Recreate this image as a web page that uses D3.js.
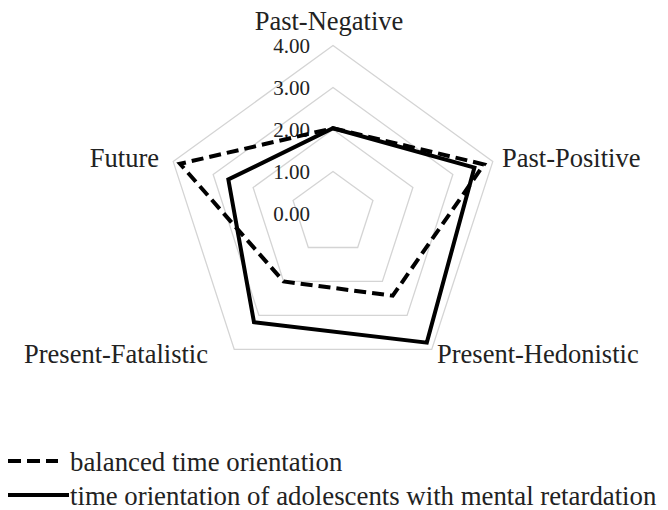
<!DOCTYPE html>
<html>
<head>
<meta charset="utf-8">
<script src="https://cdn.jsdelivr.net/npm/d3@7"></script>
<style>
  body { margin: 0; background: #fff; }
  svg { display: block; }
</style>
</head>
<body>
<div id="chart"></div>
<script>
// Axes of the radar, clockwise from the top
const categories = ["Past-Negative", "Past-Positive", "Present-Hedonistic", "Present-Fatalistic", "Future"];
const balanced = [2.03, 3.78, 2.42, 2.0, 3.83];
const adolescents = [2.03, 3.54, 3.8, 3.2, 2.62];
const tickValues = [0, 1, 2, 3, 4];
const tickLabels = ["0.00", "1.00", "2.00", "3.00", "4.00"];
const seriesNames = ["balanced time orientation", "time orientation of adolescents with mental retardation"];

const width = 668, height = 510;
const cx = 333, cy = 213.5;
const font = "'Liberation Serif', 'Times New Roman', serif";

const svg = d3.select("#chart").append("svg")
    .attr("width", width)
    .attr("height", height)
    .style("font-family", font);

const r = d3.scaleLinear().domain([0, 4]).range([0, 168]);
const angle = d3.scalePoint().domain(categories).range([0, 2 * Math.PI * 4 / 5]);

const g = svg.append("g").attr("transform", `translate(${cx},${cy})`);

// Grid pentagons
const gridLine = d3.lineRadial()
    .angle(d => angle(d))
    .curve(d3.curveLinearClosed);

g.selectAll(".grid")
    .data(tickValues.slice(1))
    .join("path")
    .attr("class", "grid")
    .attr("d", v => gridLine.radius(() => r(v))(categories))
    .attr("fill", "none")
    .attr("stroke", "#d4d4d4")
    .attr("stroke-width", 1.3);

// Tick labels along the top axis
g.selectAll(".tick")
    .data(tickValues)
    .join("text")
    .attr("class", "tick")
    .attr("x", -23)
    .attr("y", v => -r(v))
    .attr("dy", "0.38em")
    .attr("text-anchor", "end")
    .style("font-size", "21px")
    .style("fill", "#222")
    .text((v, i) => tickLabels[i]);

// Data polygons
const seriesLine = d3.lineRadial()
    .angle((d, i) => angle(categories[i]))
    .radius(d => r(d))
    .curve(d3.curveLinearClosed);

const series = [
    { values: balanced, dash: "12,6" },
    { values: adolescents, dash: null }
];

g.selectAll(".series")
    .data(series)
    .join("path")
    .attr("class", "series")
    .attr("d", d => seriesLine(d.values))
    .attr("fill", "none")
    .attr("stroke", "#000")
    .attr("stroke-width", 4)
    .attr("stroke-linejoin", "miter")
    .attr("stroke-dasharray", d => d.dash);

// Category labels
const labelPos = [
    { x: 329, y: 30, anchor: "middle" },
    { x: 502, y: 167, anchor: "start" },
    { x: 437, y: 363, anchor: "start" },
    { x: 208, y: 363, anchor: "end" },
    { x: 159, y: 167, anchor: "end" }
];

svg.selectAll(".cat")
    .data(categories)
    .join("text")
    .attr("class", "cat")
    .attr("x", (d, i) => labelPos[i].x)
    .attr("y", (d, i) => labelPos[i].y)
    .attr("text-anchor", (d, i) => labelPos[i].anchor)
    .style("font-size", "26.5px")
    .style("fill", "#222")
    .text(d => d);

// Legend
const legend = svg.append("g").attr("class", "legend");
const legendY = [461, 495];

legend.selectAll("line")
    .data(series)
    .join("line")
    .attr("x1", 8)
    .attr("x2", (d, i) => i === 0 ? 58 : 69)
    .attr("y1", (d, i) => legendY[i])
    .attr("y2", (d, i) => legendY[i])
    .attr("stroke", "#000")
    .attr("stroke-width", 4)
    .attr("stroke-dasharray", d => d.dash ? "13,6" : null);

legend.selectAll("text")
    .data(seriesNames)
    .join("text")
    .attr("x", 70)
    .attr("y", (d, i) => legendY[i] + 10)
    .style("font-size", "26.8px")
    .style("fill", "#222")
    .text(d => d);
</script>
</body>
</html>
